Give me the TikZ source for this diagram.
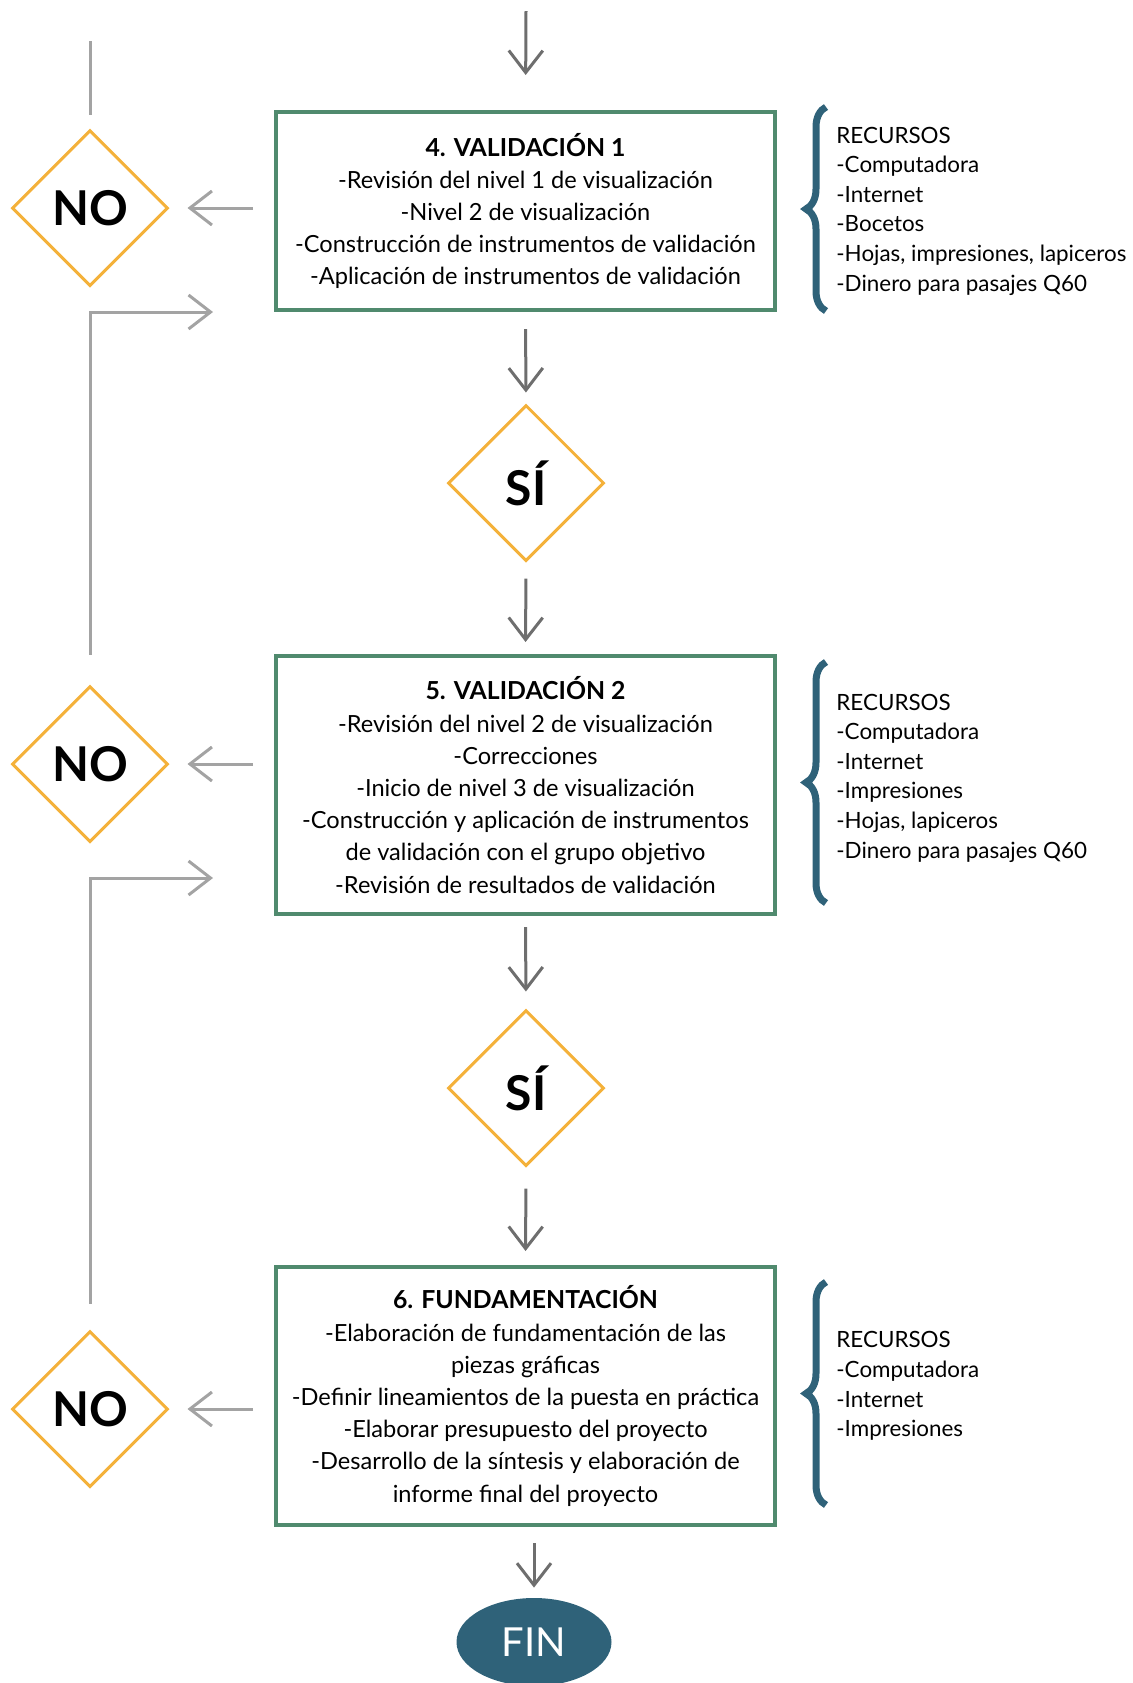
\documentclass[tikz,border=0pt]{standalone}
\usepackage{fontspec}
\setmainfont{Lato}
\usetikzlibrary{shapes.geometric,arrows.meta,decorations.pathreplacing}
\definecolor{verde}{RGB}{80,138,110}
\definecolor{naranja}{RGB}{244,177,58}
\definecolor{grisosc}{RGB}{110,110,110}
\definecolor{grisclaro}{RGB}{163,163,163}
\definecolor{azul}{RGB}{47,98,121}

\begin{document}
\begin{tikzpicture}[x=0.5pt,y=-0.5pt,
    caja/.style={draw=verde, line width=2pt, minimum width=249.5pt, align=center, inner sep=0pt,
      font=\fontsize{11.8}{16.1}\selectfont},
    titulo/.style={font=\fontsize{12.4}{16.1}\selectfont\bfseries},
    rombo/.style={draw=naranja, line width=1.5pt, diamond, minimum width=78pt, minimum height=78pt,
      inner sep=0pt, font=\fontsize{24}{24}\selectfont\bfseries},
    baja/.style={draw=grisosc, line width=1.5pt, -{Straight Barb[length=11pt,width=17pt]}},
    lado/.style={draw=grisclaro, line width=1.5pt, -{Straight Barb[length=11pt,width=17pt]}},
    recursos/.style={align=left, anchor=west, inner sep=0pt, font=\fontsize{11.2}{14.8}\selectfont},
    llave/.style={draw=azul, line width=3.5pt, decorate, decoration={brace, amplitude=10pt}}]
        \useasboundingbox (0,0) rectangle (1132,1683);
        % pasos
        \node[caja, minimum height=99pt] (val1) at (525.5,211) {{\fontsize{12.4}{16.1}\selectfont\bfseries 4. VALIDACIÓN 1}\\-Revisión del nivel 1 de visualización\\-Nivel 2 de visualización\\-Construcción de instrumentos de validación\\-Aplicación de instrumentos de validación};
        \node[caja, minimum height=129pt] (val2) at (525.5,785) {{\fontsize{12.4}{16.1}\selectfont\bfseries 5. VALIDACIÓN 2}\\-Revisión del nivel 2 de visualización\\-Correcciones\\-Inicio de nivel 3 de visualización\\-Construcción y aplicación de instrumentos\\de validación con el grupo objetivo\\-Revisión de resultados de validación};
        \node[caja, minimum height=129pt] (val3) at (525.5,1396) {{\fontsize{12.4}{16.1}\selectfont\bfseries 6. FUNDAMENTACIÓN}\\-Elaboración de fundamentación de las\\piezas gráficas\\-Definir lineamientos de la puesta en práctica\\-Elaborar presupuesto del proyecto\\-Desarrollo de la síntesis y elaboración de\\informe final del proyecto};
        % decisiones
        \node[rombo] (no1) at (90,208) {NO};
        \node[rombo] (no2) at (90,764) {NO};
        \node[rombo] (no3) at (90,1409) {NO};
        \node[rombo] (si1) at (526,483) {SÍ};
        \node[rombo] (si2) at (526,1088) {SÍ};
        \node[ellipse, fill=azul, text=white, minimum width=77.5pt, minimum height=44pt, inner sep=0pt,
          font=\fontsize{20}{20}\selectfont] (fin) at (534,1642) {FIN};
        % recursos
        \node[recursos] (rec1) at (836,211) {RECURSOS\\-Computadora\\-Internet\\-Bocetos\\-Hojas, impresiones, lapiceros\\-Dinero para pasajes Q60};
        \node[recursos] (rec2) at (836,778) {RECURSOS\\-Computadora\\-Internet\\-Impresiones\\-Hojas, lapiceros\\-Dinero para pasajes Q60};
        \node[recursos] (rec3) at (836,1386) {RECURSOS\\-Computadora\\-Internet\\-Impresiones};
        \draw[llave] (826,311) -- (826,107);
        \draw[llave] (826,903) -- (826,662);
        \draw[llave] (826,1505) -- (826,1282);
        % flechas hacia abajo
        \coordinate (inicio) at (526,11);
        \draw[baja, shorten >=17.5pt] (inicio) -- (val1.north);
        \draw[baja, shorten <=8.5pt, shorten >=5.5pt] (val1.south) -- (si1.north);
        \draw[baja, shorten <=8pt, shorten >=6pt] (si1.south) -- (val2.north);
        \draw[baja, shorten <=5.5pt, shorten >=8.5pt] (val2.south) -- (si2.north);
        \draw[baja, shorten <=10.5pt, shorten >=7pt] (si2.south) -- (val3.north);
        \draw[baja, shorten <=8pt, shorten >=5pt] (val3.south -| fin.north) -- (fin.north);
        % flechas hacia el NO
        \draw[lado, shorten <=10.5pt, shorten >=9pt] (val1.west |- no1.east) -- (no1.east);
        \draw[lado, shorten <=10.5pt, shorten >=9pt] (val2.west |- no2.east) -- (no2.east);
        \draw[lado, shorten <=10.5pt, shorten >=9pt] (val3.west |- no3.east) -- (no3.east);
        % retornos
        \coordinate (arriba) at (90,41);
        \draw[grisclaro, line width=1.5pt, shorten >=7pt] (arriba) -- (no1.north);
        \draw[lado, shorten <=15pt, shorten >=30.5pt] (no2.north) -- (no2.north |- val1.south west) -- (val1.south west);
        \coordinate (retorno2) at ([yshift=19pt]val2.south west);
        \draw[lado, shorten <=13pt, shorten >=30.5pt] (no3.north) -- (no3.north |- retorno2) -- (retorno2);
    \end{tikzpicture}
\end{document}
